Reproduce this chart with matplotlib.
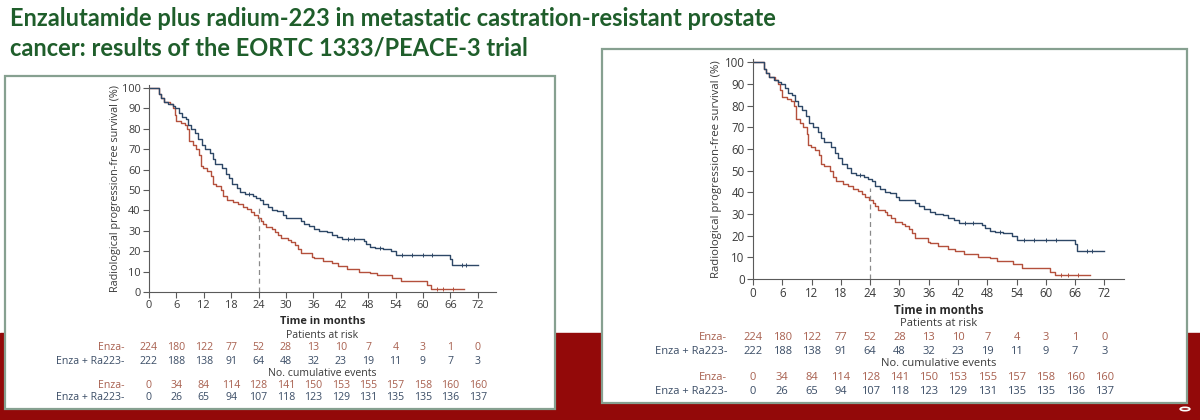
import numpy as np
import matplotlib
matplotlib.use("Agg")
import matplotlib.pyplot as plt
from matplotlib.patches import Rectangle, Circle
from matplotlib.transforms import blended_transform_factory

# ---- data ----
title_lines = ["Enzalutamide plus radium-223 in metastatic castration-resistant prostate",
               "cancer: results of the EORTC 1333/PEACE-3 trial"]

months = [0, 6, 12, 18, 24, 30, 36, 42, 48, 54, 60, 66, 72]
group_names = ["Enza-", "Enza + Ra223-"]

# Kaplan-Meier steps: (time, survival % from that time on)
enza_t = [0, 2.2, 2.7, 3.3, 4.5, 5.2, 5.6, 6.0, 7.0, 7.8, 8.3, 8.8, 9.6, 10.3, 11.0, 11.3, 11.8,
          12.8, 13.5, 14.0, 14.6, 15.8, 16.3, 17.0, 18.5, 19.5, 20.5, 21.5, 22.3, 23.0, 23.8,
          24.5, 25.0, 25.7, 27.0, 27.5, 28.3, 29.0, 30.5, 31.2, 32.0, 32.6, 33.2, 35.8, 36.2,
          38.0, 40.0, 41.3, 43.3, 46.0, 48.5, 50.0, 53.2, 55.2, 60.8, 61.8, 69.0]
enza_s = [100, 97, 95, 93, 92, 90, 87, 84, 83, 82, 80, 74, 72, 70, 67, 62, 61,
          59.5, 57, 53, 52, 50, 47, 45, 44, 43, 41.5, 40.5, 39, 38, 36.5,
          35, 33.5, 32, 31, 29.5, 28, 26.5, 25.5, 24.5, 23, 21, 19, 17, 16.5,
          15, 14, 12.8, 11.5, 10, 9.5, 8.5, 7, 5.2, 3.3, 1.7, 1.7]
combo_t = [0, 2.2, 2.7, 3.2, 4.2, 5.2, 5.8, 6.5, 7.2, 8.0, 8.6, 9.2, 10.0, 10.8, 11.5, 12.3,
           13.3, 14.0, 14.5, 16.0, 16.8, 17.5, 18.2, 19.2, 20.0, 21.0, 22.8, 23.5, 24.3, 25.0,
           26.0, 27.0, 28.0, 29.3, 30.0, 33.2, 34.0, 35.0, 36.2, 37.3, 39.0, 40.0, 41.2, 42.3,
           47.0, 47.6, 48.5, 49.5, 51.3, 53.0, 54.0, 66.0, 66.3, 72.0]
combo_s = [100, 97, 95, 93, 92, 91, 90, 88, 86, 85, 82, 80, 78, 75, 72, 70,
           68, 65, 63, 61, 58, 56, 53, 51, 49, 48, 47, 46, 45, 43,
           41.5, 40, 39.5, 38, 36.5, 35, 33.5, 32.5, 31, 30, 29.5, 28, 27, 26,
           25, 23.5, 22, 21.5, 21, 20, 18, 16, 13, 13]
enza_cens = [63.0, 64.5, 66.5]
combo_cens = [22.0, 43.5, 45.0, 50.5, 55.5, 57.5, 60.0, 62.0, 68.5, 69.5]

at_risk_enza = [224, 180, 122, 77, 52, 28, 13, 10, 7, 4, 3, 1, 0]
at_risk_combo = [222, 188, 138, 91, 64, 48, 32, 23, 19, 11, 9, 7, 3]
events_enza = [0, 34, 84, 114, 128, 141, 150, 153, 155, 157, 158, 160, 160]
events_combo = [0, 26, 65, 94, 107, 118, 123, 129, 131, 135, 135, 136, 137]

# ---- style ----
RED = "#b4503c"
BLUE = "#2d4766"
RED_TXT = "#a8604f"
BLUE_TXT = "#3b4d66"
AX_COL = "#5a5a5a"
TITLE_GREEN = "#1f5e2b"
BAND = "#930909"
FRAME = "#86a090"

W, H = 1200, 420
fig = plt.figure(figsize=(12, 4.2), dpi=100)
plt.rcParams["font.family"] = ["Open Sans", "DejaVu Sans"]


def px_rect(x0, y0, x1, y1):
    return [x0 / W, 1 - y1 / H, (x1 - x0) / W, (y1 - y0) / H]


# slide background: red band at the bottom
fig.patches.append(Rectangle((0, 0), 1, (H - 333) / H, transform=fig.transFigure,
                             color=BAND, zorder=0))

for i, line in enumerate(title_lines):
    fig.text(10 / W, 1 - (19 + 29 * i) / H, line, family=["Lato", "DejaVu Sans"],
             fontsize=17, fontweight="bold", color=TITLE_GREEN, va="center", ha="left")


def draw_panel(box, ax_px, fs, offs, ylab_x):
    bx0, by0, bx1, by1 = box
    fig.patches.append(Rectangle((bx0 / W, 1 - by1 / H), (bx1 - bx0) / W, (by1 - by0) / H,
                                 transform=fig.transFigure, facecolor="white",
                                 edgecolor=FRAME, lw=1.6, zorder=1))
    ax = fig.add_axes(px_rect(*ax_px))
    ax.set_zorder(2)
    ax.patch.set_visible(False)
    ax.step(enza_t, enza_s, where="post", color=RED, lw=1.0)
    ax.step(combo_t, combo_s, where="post", color=BLUE, lw=1.0)
    ax.plot(enza_cens, np.interp(enza_cens, enza_t, enza_s), ls="none", marker="|",
            ms=2.5, color=RED, mew=0.7)
    cs = [combo_s[np.searchsorted(combo_t, c, side="right") - 1] for c in combo_cens]
    ax.plot(combo_cens, cs, ls="none", marker="|", ms=2.5, color=BLUE, mew=0.7)
    ax.plot([24, 24], [0, 42], ls=(0, (4, 3)), color="#8a8a8a", lw=0.9)

    ax.set_xlim(0, 76)
    ax.set_ylim(0, 101.5)
    ax.set_xticks(months)
    ax.set_yticks(range(0, 101, 10))
    for s in ["top", "right"]:
        ax.spines[s].set_visible(False)
    for s in ["left", "bottom"]:
        ax.spines[s].set_color(AX_COL)
        ax.spines[s].set_linewidth(0.8)
    ax.tick_params(direction="out", length=4, width=0.8, color=AX_COL,
                   labelsize=fs + 0.3, labelcolor="#3a3a3a", pad=2)
    ax.set_ylabel("Radiological progression-free survival (%)", fontsize=fs + 0.2,
                  color="#3a3a3a")
    x0, y0, x1, y1 = ax_px
    ax.yaxis.set_label_coords((ylab_x - x0) / (x1 - x0), 0.5)

    tr = blended_transform_factory(ax.transData, fig.transFigure)
    bottom = y1

    def fy(o):
        return 1 - (bottom + o) / H

    ax.text(38, fy(offs[0]), "Time in months", transform=tr, ha="center", va="center",
            fontsize=fs + 0.3, fontweight="bold", color="#2a2a2a")
    ax.text(38, fy(offs[1]), "Patients at risk", transform=tr, ha="center", va="center",
            fontsize=fs, color="#3a3a3a")
    ax.text(38, fy(offs[4]), "No. cumulative events", transform=tr, ha="center",
            va="center", fontsize=fs, color="#3a3a3a")
    rows = [(offs[2], group_names[0], at_risk_enza, RED_TXT),
            (offs[3], group_names[1], at_risk_combo, BLUE_TXT),
            (offs[5], group_names[0], events_enza, RED_TXT),
            (offs[6], group_names[1], events_combo, BLUE_TXT)]
    for o, name, vals, col in rows:
        ax.text(-5.3, fy(o), name, transform=tr, ha="right", va="center",
                fontsize=fs, color=col)
        for m, v in zip(months, vals):
            ax.text(m, fy(o), str(v), transform=tr, ha="center", va="center",
                    fontsize=fs, color=col)
    return ax


draw_panel((5, 76, 555, 409), (149, 85, 496, 292), 7.6,
           [30, 43, 56, 69, 81, 94, 106], 121)
draw_panel((602, 49, 1187, 403), (753, 59, 1124, 279), 8.0,
           [31, 45, 58, 72, 85, 98, 112], 722)

fig.patches.append(Circle((1185 / W, 1 - 409 / H), 0.004, transform=fig.transFigure,
                          facecolor=BAND, edgecolor="white", lw=1.2, zorder=3))

fig.savefig("out.png", dpi=100, facecolor="white")
